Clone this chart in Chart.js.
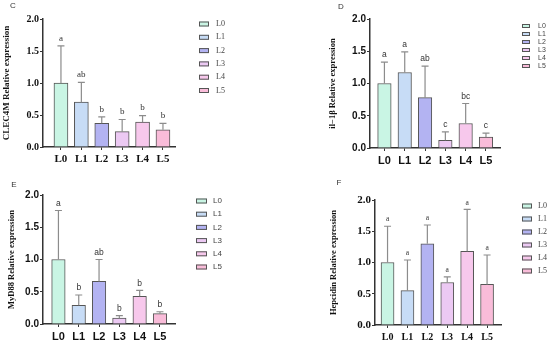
<!DOCTYPE html>
<html><head><meta charset="utf-8">
<script src="https://cdn.jsdelivr.net/npm/chart.js@4/dist/chart.umd.min.js"></script>
<style>
html,body{margin:0;padding:0;background:#fff;}
#wrap{position:relative;width:550px;height:344px;overflow:hidden;}
canvas{position:absolute;}
</style></head><body>
<div id="wrap">
<canvas id="cC" width="275" height="172" style="left:0;top:0"></canvas>
<canvas id="cD" width="275" height="172" style="left:275px;top:0"></canvas>
<canvas id="cE" width="275" height="172" style="left:0;top:172px"></canvas>
<canvas id="cF" width="275" height="172" style="left:275px;top:172px"></canvas>
</div>
<script>
// ---------- data ----------
const categories = ['L0','L1','L2','L3','L4','L5'];
const yTickValues = [0, 0.5, 1.0, 1.5, 2.0];

const clec4mMean = [1.00, 0.70, 0.37, 0.24, 0.39, 0.27];
const clec4mSD   = [0.58, 0.31, 0.10, 0.19, 0.10, 0.10];
const clec4mLetters = ['a','ab','b','b','b','b'];

const il1bMean = [1.00, 1.17, 0.78, 0.12, 0.38, 0.17];
const il1bSD   = [0.33, 0.32, 0.49, 0.13, 0.31, 0.06];
const il1bLetters = ['a','a','ab','c','bc','c'];

const myd88Mean = [1.00, 0.29, 0.66, 0.09, 0.43, 0.16];
const myd88SD   = [0.76, 0.16, 0.34, 0.04, 0.09, 0.03];
const myd88Letters = ['a','b','ab','b','b','b'];

const hepcidinMean = [1.00, 0.55, 1.30, 0.68, 1.18, 0.65];
const hepcidinSD   = [0.58, 0.49, 0.30, 0.09, 0.67, 0.47];
const hepcidinLetters = ['a','a','a','a','a','a'];

const barColors = ['#c9f5e4','#c7dcf6','#b3b3f2','#ecc9f3','#f7c8ec','#f9bcd9'];

// ---------- layout / styles ----------
const SERIF = '"Liberation Serif", "Times New Roman", serif';
const SANS = '"Liberation Sans", Arial, sans-serif';

const panels = [
  {id:'cC', tag:'C', tagPos:[13,6], mean:clec4mMean, sd:clec4mSD, letters:clec4mLetters,
   title:'CLEC4M Relative expression', fam:SERIF, titleFam:SERIF, titleSize:9, titleX:7,
   left:43, right:175, top:19, bottom:147, xmin:-0.88, xmax:5.59, bar:14,
   ySize:10, xSize:11, letterSize:9,
   legend:{x:199, y:24, dy:13.3, w:10, h:5, tx:216, size:8, fam:SERIF}},
  {id:'cD', tag:'D', tagPos:[66,7], mean:il1bMean, sd:il1bSD, letters:il1bLetters,
   title:'il\u22121\u03b2 Relative expression', fam:SANS, titleFam:SERIF, titleSize:8.5, titleX:58,
   left:95, right:225, top:19, bottom:148, xmin:-0.71, xmax:5.69, bar:13.5,
   ySize:10, xSize:11, letterSize:8.5,
   legend:{x:247, y:26, dy:8, w:8, h:4, tx:263, size:7, fam:SANS}},
  {id:'cE', tag:'E', tagPos:[14,13], mean:myd88Mean, sd:myd88SD, letters:myd88Letters,
   title:'MyD88 Relative expression', fam:SANS, titleFam:SERIF, titleSize:8.5, titleX:12,
   left:43, right:175, top:23, bottom:152, xmin:-0.76, xmax:5.74, bar:13.5,
   ySize:10, xSize:11, letterSize:8.5,
   legend:{x:196, y:29, dy:13.2, w:11, h:5, tx:213, size:8, fam:SANS}},
  {id:'cF', tag:'F', tagPos:[64,11], mean:hepcidinMean, sd:hepcidinSD, letters:hepcidinLetters,
   title:'Hepcidin Relative expression', fam:SERIF, titleFam:SERIF, titleSize:8.5, titleX:59,
   left:100, right:226, top:28, bottom:153, xmin:-0.63, xmax:5.70, bar:13,
   ySize:11, xSize:10, letterSize:7.5,
   legend:{x:247, y:34, dy:13, w:10, h:5, tx:263, size:8, fam:SERIF}}
];

const decoPlugin = {
  id: 'deco',
  afterDatasetsDraw(chart, args, opts) {
    const p = opts.p, ctx = chart.ctx, xs = chart.scales.x, ys = chart.scales.y;
    ctx.save();
    // error bars + significance letters
    p.mean.forEach((m, i) => {
      const x = xs.getPixelForValue(i);
      const y0 = ys.getPixelForValue(m);
      const y1 = ys.getPixelForValue(m + p.sd[i]);
      ctx.strokeStyle = '#8c8c8c'; ctx.lineWidth = 1.2;
      ctx.beginPath();
      ctx.moveTo(x, y0); ctx.lineTo(x, y1);
      ctx.moveTo(x - 3.5, y1); ctx.lineTo(x + 3.5, y1);
      ctx.stroke();
      ctx.fillStyle = '#333';
      ctx.font = p.letterSize + 'px ' + p.fam;
      ctx.textAlign = 'center'; ctx.textBaseline = 'bottom';
      ctx.fillText(p.letters[i], x, y1 - 3);
    });
    // legend
    const L = p.legend;
    categories.forEach((c, i) => {
      const cy = L.y + i * L.dy;
      ctx.fillStyle = barColors[i];
      ctx.fillRect(L.x, cy - L.h / 2, L.w, L.h);
      ctx.strokeStyle = '#555'; ctx.lineWidth = 1;
      ctx.strokeRect(L.x + 0.5, cy - L.h / 2 + 0.5, L.w - 1, L.h - 1);
      ctx.fillStyle = '#444';
      ctx.font = L.size + 'px ' + L.fam;
      ctx.textAlign = 'left'; ctx.textBaseline = 'middle';
      ctx.fillText(c, L.tx, cy);
    });
    // panel tag
    ctx.fillStyle = '#333';
    ctx.font = '8px ' + SANS;
    ctx.textAlign = 'center'; ctx.textBaseline = 'middle';
    ctx.fillText(p.tag, p.tagPos[0], p.tagPos[1]);
    ctx.restore();
  }
};

panels.forEach(p => {
  const H = 172, W = 275;
  new Chart(document.getElementById(p.id), {
    type: 'bar',
    data: {
      datasets: [{
        data: p.mean.map((v, i) => ({x: i, y: v})),
        backgroundColor: barColors,
        borderColor: '#555',
        borderWidth: 1,
        barThickness: p.bar
      }]
    },
    options: {
      responsive: false,
      animation: false,
      events: [],
      layout: {padding: {left: 0, top: p.top, right: W - p.right, bottom: 0}},
      plugins: {legend: {display: false}, tooltip: {enabled: false}, deco: {p: p}},
      scales: {
        x: {
          type: 'linear', min: p.xmin, max: p.xmax, offset: false,
          afterFit: s => { s.height = H - p.bottom; },
          grid: {display: true, drawOnChartArea: false, drawTicks: true, tickLength: 3, color: '#333', lineWidth: 1, offset: false},
          border: {display: true, color: '#333', width: 1.5},
          ticks: {
            stepSize: 1, includeBounds: false, autoSkip: false, maxRotation: 0, padding: 3,
            color: '#111', font: {family: p.fam, size: p.xSize, weight: 'bold'},
            callback: v => (Number.isInteger(v) && categories[v] !== undefined) ? categories[v] : ''
          }
        },
        y: {
          min: 0, max: 2,
          afterFit: s => { s.width = p.left; },
          afterBuildTicks: s => { s.ticks = yTickValues.map(v => ({value: v})); },
          grid: {display: true, drawOnChartArea: false, drawTicks: true, tickLength: 3, color: '#333', lineWidth: 1},
          border: {display: true, color: '#333', width: 1.5},
          ticks: {
            padding: 1, color: '#111', font: {family: p.fam, size: p.ySize, weight: 'bold'},
            callback: v => Number(v).toFixed(1)
          },
          title: {
            display: true, text: p.title, color: '#111',
            font: {family: p.titleFam, size: p.titleSize, weight: 'bold'},
            padding: {top: p.titleX - p.titleSize * 0.6, bottom: 0}
          }
        }
      }
    },
    plugins: [decoPlugin]
  });
});
</script>
</body></html>
